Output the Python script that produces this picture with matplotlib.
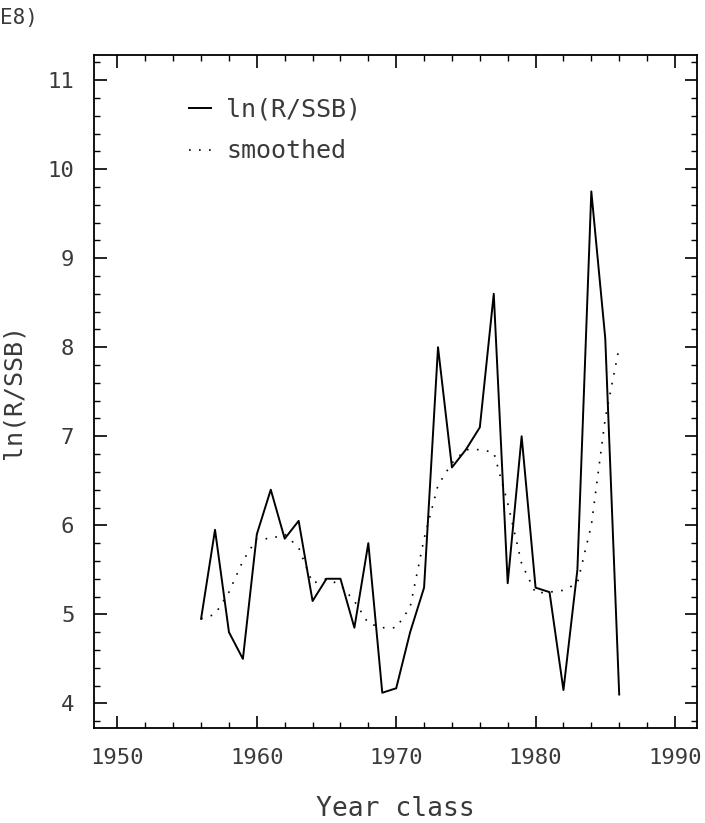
import matplotlib
matplotlib.use('Agg')
import matplotlib.pyplot as plt
from matplotlib.ticker import MultipleLocator

# year classes and values
years = list(range(1956, 1987))
ln_r_ssb = [4.95, 5.95, 4.8, 4.5, 5.9, 6.4, 5.85, 6.05, 5.15, 5.4,
            5.4, 4.85, 5.8, 4.12, 4.17, 4.8, 5.3, 8.0, 6.65, 6.85,
            7.1, 8.6, 5.35, 7.0, 5.3, 5.25, 4.15, 5.5, 9.75, 8.1, 4.1]
smoothed = [4.95, 5.0, 5.25, 5.6, 5.85, 5.85, 5.9, 5.75, 5.35, 5.4,
            5.33, 5.15, 4.9, 4.85, 4.85, 5.08, 5.85, 6.45, 6.7, 6.85,
            6.85, 6.82, 6.25, 5.57, 5.24, 5.25, 5.27, 5.35, 6.0, 7.2, 8.0]

xticks = [1950, 1960, 1970, 1980, 1990]
yticks = [4, 5, 6, 7, 8, 9, 10, 11]

plt.rcParams['font.family'] = ['DejaVu Sans Mono']
txtcol = '#3a3a3a'

fig = plt.figure(figsize=(7.05, 8.23), dpi=100)
ax = fig.add_axes([0.133, 0.115, 0.856, 0.818])

ax.plot(years, ln_r_ssb, color='black', lw=1.4, label='ln(R/SSB)')
ax.plot(years, smoothed, color='black', lw=1.2, linestyle=(0, (1, 5)),
        label='smoothed')

ax.set_xlim(1948.3, 1991.6)
ax.set_ylim(3.72, 11.28)
ax.set_xticks(xticks)
ax.set_yticks(yticks)
ax.xaxis.set_minor_locator(MultipleLocator(2))
ax.yaxis.set_minor_locator(MultipleLocator(0.2))
ax.tick_params(which='both', direction='in', top=True, right=True,
               colors='black', labelcolor=txtcol)
ax.tick_params(which='major', length=9, width=1.2, labelsize=16, pad=14)
ax.tick_params(which='minor', length=4, width=1.0)
for s in ax.spines.values():
    s.set_linewidth(1.3)

ax.set_xlabel('Year class', fontsize=19, color=txtcol, labelpad=20)
ax.set_ylabel('ln(R/SSB)', fontsize=18, color=txtcol, labelpad=16)

leg = ax.legend(loc='upper left', bbox_to_anchor=(0.12, 0.97), frameon=False,
                fontsize=18, handlelength=0.9, handletextpad=0.6,
                labelspacing=0.7)
for t in leg.get_texts():
    t.set_color(txtcol)

fig.text(0.0, 0.978, 'E8)', fontsize=15, color=txtcol, va='center')

fig.savefig('out.png', dpi=100)
